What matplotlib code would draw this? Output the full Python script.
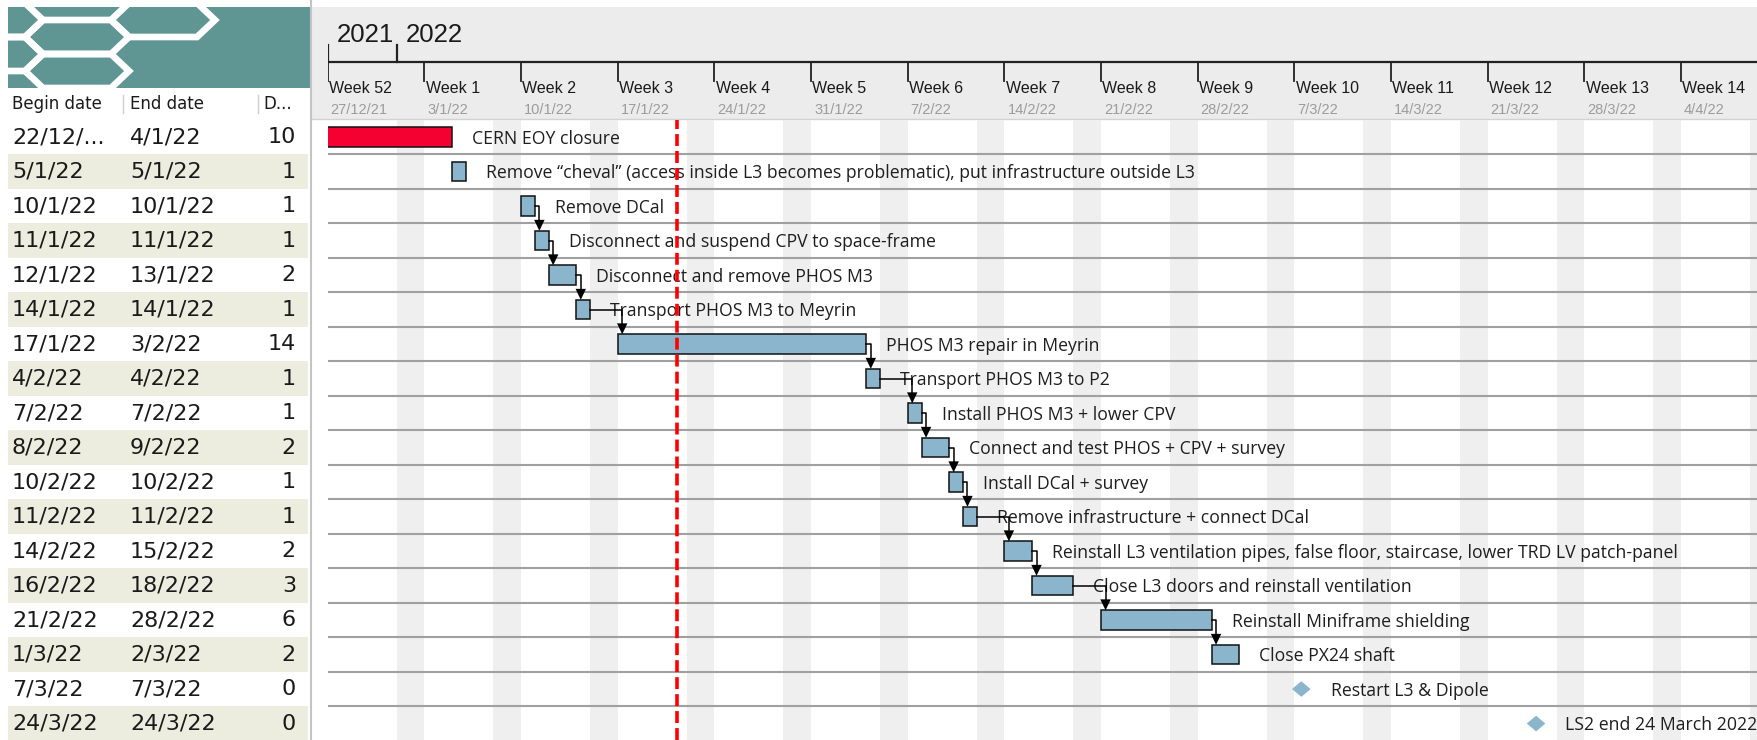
import datetime as dt
import matplotlib
matplotlib.use("Agg")
import matplotlib.pyplot as plt
from matplotlib.patches import Rectangle, Polygon

plt.rcParams['font.family'] = ['Liberation Sans', 'DejaVu Sans']

# ---- data ----
task_names = [
    "CERN EOY closure",
    "Remove \u201ccheval\u201d (access inside L3 becomes problematic), put infrastructure outside L3",
    "Remove DCal",
    "Disconnect and suspend CPV to space-frame",
    "Disconnect and remove PHOS M3",
    "Transport PHOS M3 to Meyrin",
    "PHOS M3 repair in Meyrin",
    "Transport PHOS M3 to P2",
    "Install PHOS M3 + lower CPV",
    "Connect and test PHOS + CPV + survey",
    "Install DCal + survey",
    "Remove infrastructure + connect DCal",
    "Reinstall L3 ventilation pipes, false floor, staircase, lower TRD LV patch-panel",
    "Close L3 doors and reinstall ventilation",
    "Reinstall Miniframe shielding",
    "Close PX24 shaft",
    "Restart L3 & Dipole",
    "LS2 end 24 March 2022",
]
begin_dates = ["22/12/21", "5/1/22", "10/1/22", "11/1/22", "12/1/22", "14/1/22",
               "17/1/22", "4/2/22", "7/2/22", "8/2/22", "10/2/22", "11/2/22",
               "14/2/22", "16/2/22", "21/2/22", "1/3/22", "7/3/22", "24/3/22"]
end_dates = ["4/1/22", "5/1/22", "10/1/22", "11/1/22", "13/1/22", "14/1/22",
             "3/2/22", "4/2/22", "7/2/22", "9/2/22", "10/2/22", "11/2/22",
             "15/2/22", "18/2/22", "28/2/22", "2/3/22", "7/3/22", "24/3/22"]
durations = [10, 1, 1, 1, 2, 1, 14, 1, 1, 2, 1, 1, 2, 3, 6, 2, 0, 0]
task_colors = ["#f40031"] + ["#8bb4cd"] * 17
dependencies = [(2, 3), (3, 4), (4, 5), (5, 6), (6, 7), (7, 8), (8, 9),
                (9, 10), (10, 11), (11, 12), (12, 13), (13, 14), (14, 15)]
table_columns = ["Begin date", "End date", "D..."]
today = dt.datetime(2022, 1, 21, 7, 40)
view_start = dt.date(2021, 12, 27)

# ---- layout in pixels ----
W, H = 1758, 740
DAY_PX = 13.81
ROW_PX = 34.5
X0 = 327.7          # pixel x of view_start
HEAD_TOP = 7
HEAD_BOTTOM = 119.8
SPLIT_X = 311.7
LABEL_FONT = ['Open Sans', 'DejaVu Sans']


def parse(s):
    d, m, y = map(int, s.split('/'))
    return dt.date(2000 + y, m, d)


def day_of(d):
    if isinstance(d, dt.datetime):
        return (d - dt.datetime.combine(view_start, dt.time())).total_seconds() / 86400
    return (d - view_start).days


def short(s):
    return s if len(s) <= 7 else s[:6] + "..."


fig = plt.figure(figsize=(W / 100, H / 100), dpi=100)

# overlay axes in pixel coordinates: logo, table, header background
ov = fig.add_axes([0, 0, 1, 1], zorder=0)
ov.set_xlim(0, W)
ov.set_ylim(H, 0)
ov.axis('off')

# logo
ov.add_patch(Rectangle((8, HEAD_TOP), SPLIT_X - 8, 88 - HEAD_TOP, color="#5f9693", lw=0))
clip = Rectangle((8, HEAD_TOP), SPLIT_X - 8, 88 - HEAD_TOP, transform=ov.transData)
a, b, h = 52, 34, 17
for cx, cy in [(163, 20), (77, 37), (77, 71), (-9, 20), (-9, 54)]:
    hexagon = Polygon([(cx - a, cy), (cx - b, cy - h), (cx + b, cy - h), (cx + a, cy),
                       (cx + b, cy + h), (cx - b, cy + h)], closed=True,
                      fill=False, ec="white", lw=4.8, joinstyle='miter')
    ov.add_patch(hexagon)
    hexagon.set_clip_path(clip)

# splitter + header background
ov.add_patch(Rectangle((SPLIT_X, HEAD_TOP), W - SPLIT_X, HEAD_BOTTOM - HEAD_TOP, color="#ececec", lw=0))
ov.plot([SPLIT_X, W], [HEAD_BOTTOM - 0.5, HEAD_BOTTOM - 0.5], color="#d2d2d2", lw=1)
ov.plot([SPLIT_X - 0.5, SPLIT_X - 0.5], [0, H], color="#c4c4c4", lw=1.5)

# table header
col_x = [12, 130, 263]
for x, lab in zip(col_x, table_columns):
    ov.text(x, 109, lab, fontsize=12, family='DejaVu Sans', color="#1a1a1a", va='baseline')
for x in [123, 258]:
    ov.plot([x, x], [95, 113], color="#d0d0d0", lw=1)

# table rows
for i in range(len(task_names)):
    top = HEAD_BOTTOM + i * ROW_PX
    yc = top + ROW_PX / 2
    if i % 2 == 1:
        ov.add_patch(Rectangle((8, top), 300, ROW_PX, color="#ededdf", lw=0))
    ov.text(12, yc, short(begin_dates[i]), fontsize=16, family='DejaVu Sans', color="#1a1a1a", va='center')
    ov.text(130, yc, short(end_dates[i]), fontsize=16, family='DejaVu Sans', color="#1a1a1a", va='center')
    ov.text(296, yc, str(durations[i]), fontsize=16, family='DejaVu Sans', color="#1a1a1a",
            va='center', ha='right')

# ---- header timeline ----
x_max = (W - X0) / DAY_PX
hd = fig.add_axes([X0 / W, 1 - HEAD_BOTTOM / H, (W - X0) / W, (HEAD_BOTTOM - HEAD_TOP) / H], zorder=1)
hd.set_xlim(0, x_max)
hd.set_ylim(HEAD_BOTTOM, HEAD_TOP)
hd.axis('off')
hd.patch.set_alpha(0)

hd.plot([0, x_max], [62, 62], color="#222222", lw=1.6, solid_capstyle='butt')
for year_start, label in [(0, "2021"), (day_of(dt.date(2022, 1, 1)), "2022")]:
    hd.plot([year_start, year_start], [45, 62], color="#222222", lw=1.6)
    hd.text(year_start + 9 / DAY_PX, 41.7, label, fontsize=18.5, color="#1a1a1a", va='baseline')

d = view_start
while day_of(d) < x_max:
    x = day_of(d)
    hd.plot([x, x], [62, 81], color="#222222", lw=1.3)
    hd.text(x + 1.4 / DAY_PX, 93.3, f"Week {d.isocalendar()[1]}", fontsize=11.5,
            color="#1a1a1a", va='baseline', clip_on=True)
    hd.text(x + 3 / DAY_PX, 114, f"{d.day}/{d.month}/{d:%y}", fontsize=10.5,
            color="#9c9c9c", va='baseline', clip_on=True)
    d += dt.timedelta(days=7)

# ---- gantt body ----
ax = fig.add_axes([X0 / W, 0, (W - X0) / W, (H - HEAD_BOTTOM) / H], zorder=1)
n_rows_visible = (H - HEAD_BOTTOM) / ROW_PX
ax.set_xlim(0, x_max)
ax.set_ylim(-0.5 + n_rows_visible, -0.5)
ax.axis('off')
ax.patch.set_facecolor("white")
ax.patch.set_visible(True)

# weekends
for k in range(-7, int(x_max) + 2):
    if (view_start + dt.timedelta(days=k)).weekday() >= 5:
        ax.axvspan(k, k + 1, color="#efefef", lw=0, zorder=0)

for i in range(len(task_names) - 1):
    ax.axhline(i + 0.5, color="#a0a0a0", lw=1.5, zorder=1)

bar_h = 19.4 / ROW_PX
for i, name in enumerate(task_names):
    start = day_of(parse(begin_dates[i]))
    end = day_of(parse(end_dates[i])) + 1
    if durations[i] == 0:
        cx = start + 0.5
        hw, hh = 9.3 / DAY_PX, 7.8 / ROW_PX
        ax.add_patch(Polygon([(cx - hw, i), (cx, i - hh), (cx + hw, i), (cx, i + hh)],
                             closed=True, color=task_colors[i], lw=0, zorder=3))
        xr = cx + hw
    else:
        ax.barh(i, end - start, left=start, height=bar_h, color=task_colors[i],
                edgecolor="#111111", lw=1.1, zorder=3)
        xr = end
    ax.annotate(name, xy=(xr, i), xytext=(20, -6.7), textcoords='offset pixels',
                fontsize=12.7, family=LABEL_FONT, color="#1e1e1e", va='baseline', ha='left',
                annotation_clip=False, clip_on=False, zorder=4)

# finish-to-start dependency arrows
off = 4.5 / DAY_PX
ah_w, ah_h = 5.2 / DAY_PX, 11 / ROW_PX
for p, s in dependencies:
    x_start = day_of(parse(begin_dates[s])) + off
    x_end = day_of(parse(end_dates[p])) + 1
    y_top = s - bar_h / 2
    ax.plot([x_end, x_start, x_start], [p, p, y_top - ah_h * 0.6], color="black", lw=1.1, zorder=5)
    ax.add_patch(Polygon([(x_start - ah_w, y_top - ah_h), (x_start + ah_w, y_top - ah_h),
                          (x_start, y_top)], closed=True, color="black", lw=0, zorder=5))

# today line
ax.axvline(day_of(today), color="#ff0000", lw=2.6, linestyle=(0, (3.3, 1.4)), zorder=6)

fig.savefig("out.png", dpi=100)
